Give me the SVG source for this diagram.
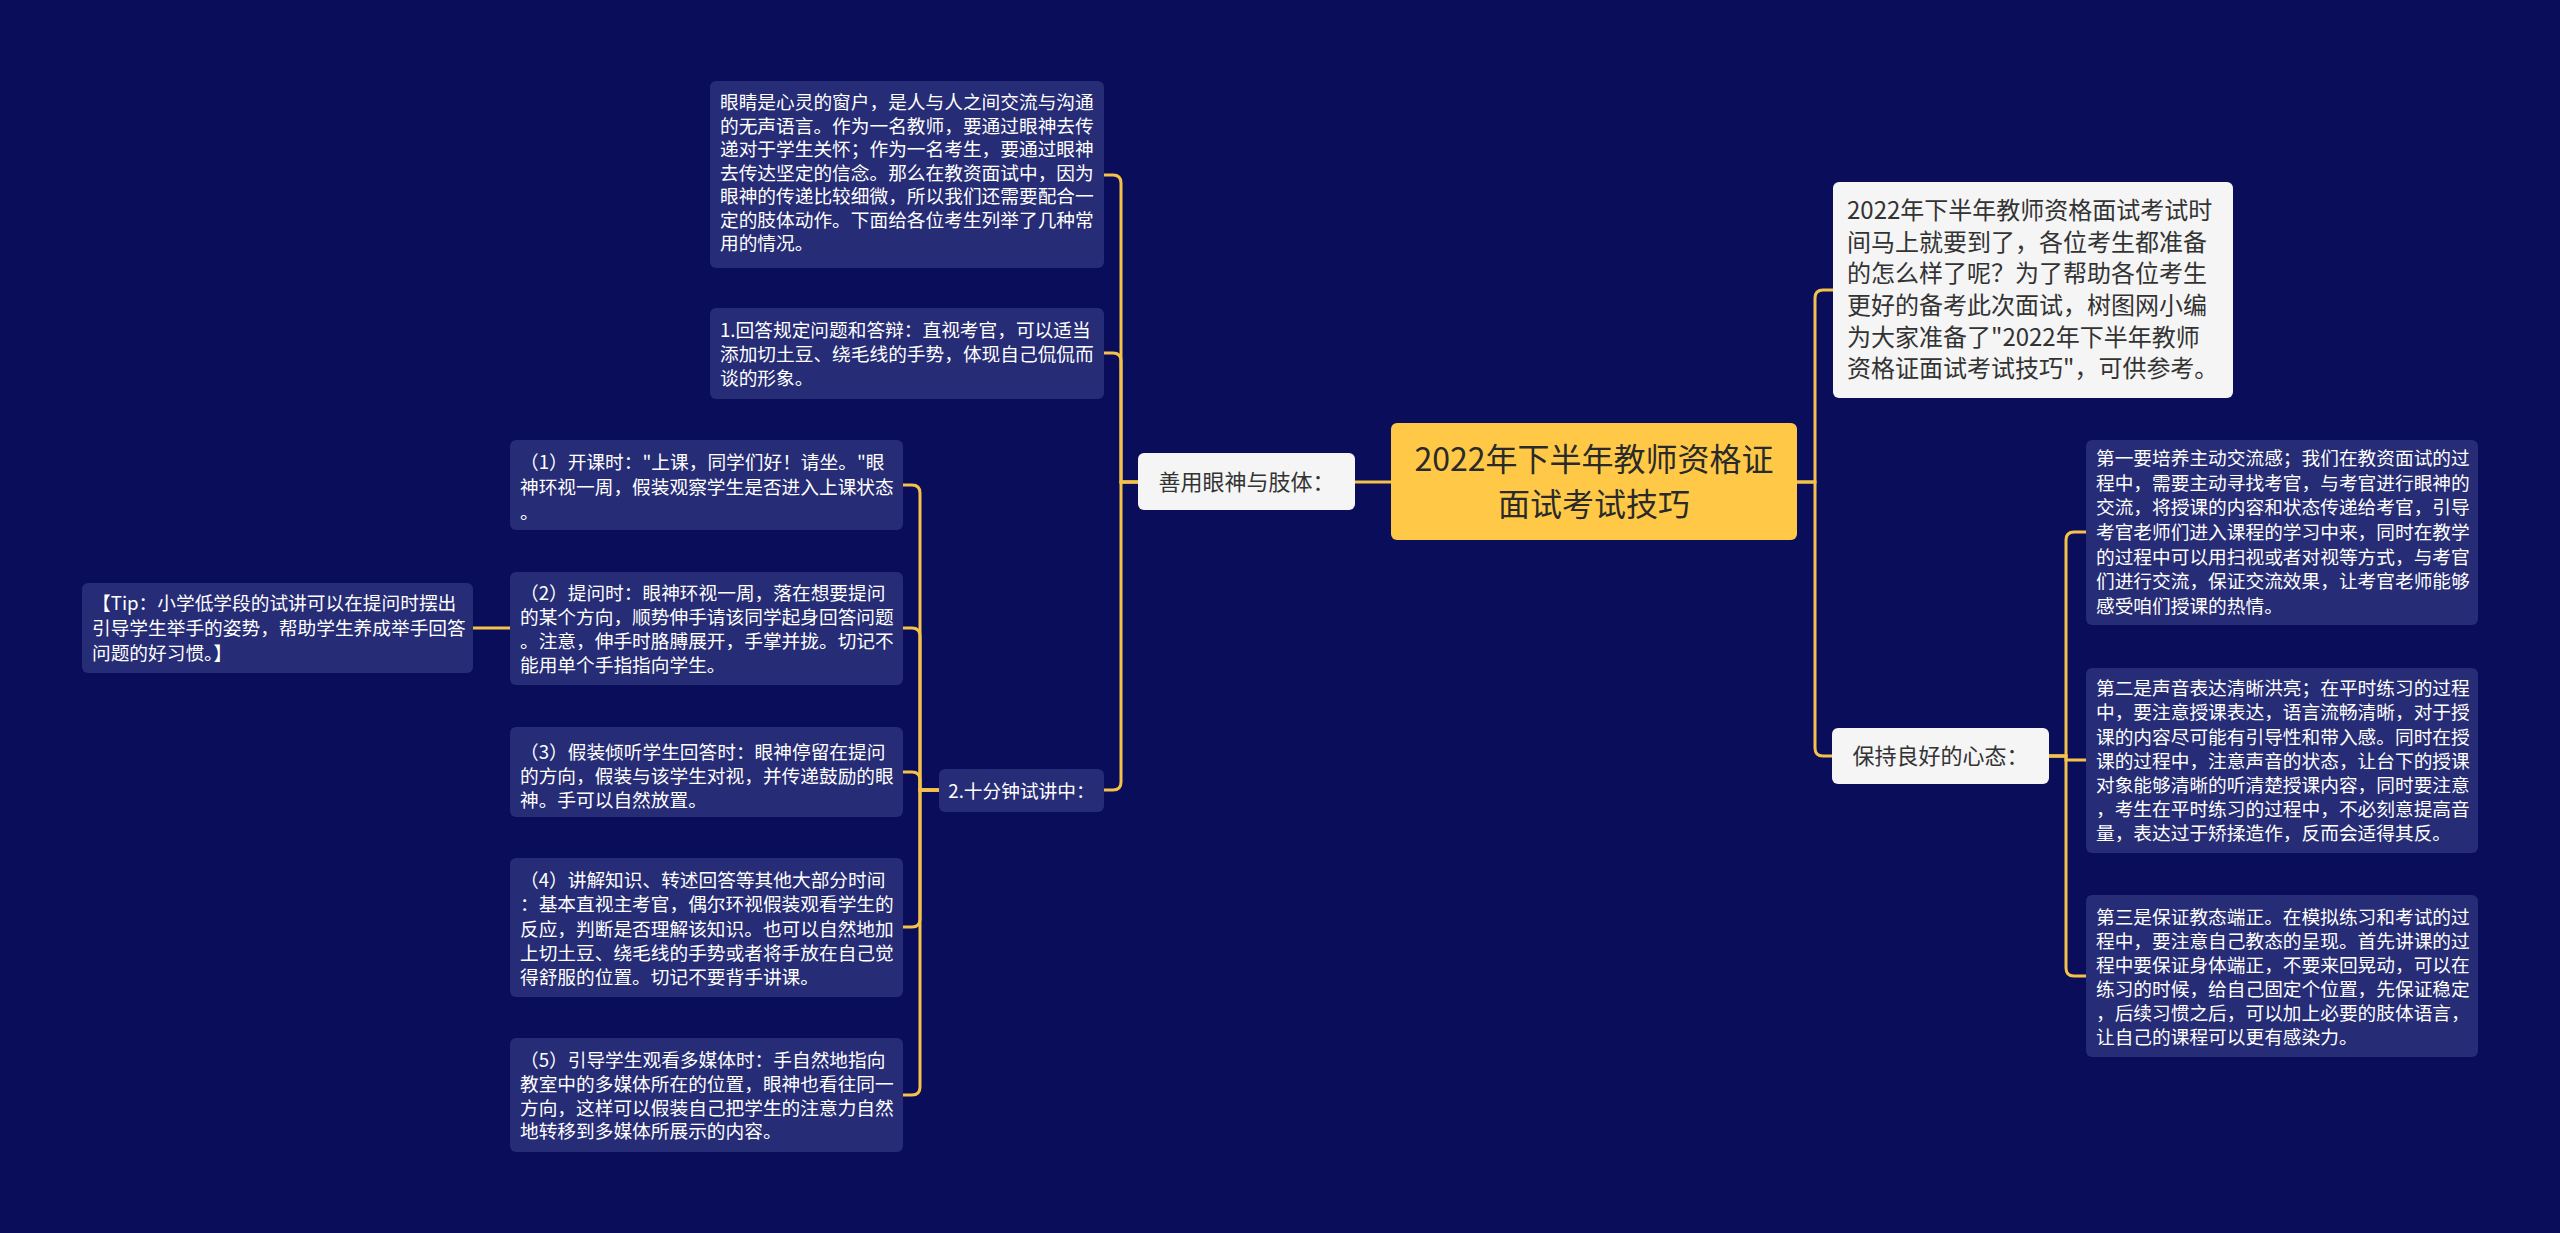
<svg xmlns="http://www.w3.org/2000/svg" width="2560" height="1233" viewBox="0 0 2560 1233">
<style>
.bg{fill:#0a0e5a}
.box{fill:#262c75}
.lbox{fill:#f5f5f5}
.cbox{fill:#ffc947}
.t{font-family:"Noto Sans CJK SC","Noto Sans",sans-serif;font-size:18.7px;fill:#ffffff}
.tl{font-family:"Noto Sans CJK SC","Noto Sans",sans-serif;fill:#333333}
.tc{font-family:"Noto Sans CJK SC","Noto Sans",sans-serif;font-size:32px;fill:#2a2a2a}
.c{fill:none;stroke:#f4c14a;stroke-width:3;stroke-linecap:round}
</style>
<rect class="bg" x="0" y="0" width="2560" height="1233"/>
<g id="connectors">
<path class="c" d="M1391,482 H1355"/>
<path class="c" d="M1138,482 H1121 V183 Q1121,175 1113,175 H1104"/>
<path class="c" d="M1138,482 H1121 V361 Q1121,353 1113,353 H1104"/>
<path class="c" d="M1138,482 H1121 V782 Q1121,790 1113,790 H1104"/>
<path class="c" d="M939,790 H920 V493 Q920,485 912,485 H903"/>
<path class="c" d="M939,790 H920 V636 Q920,628 912,628 H903"/>
<path class="c" d="M939,790 H920 V780 Q920,772 912,772 H903"/>
<path class="c" d="M939,790 H920 V919 Q920,927 912,927 H903"/>
<path class="c" d="M939,790 H920 V1087 Q920,1095 912,1095 H903"/>
<path class="c" d="M510,628 H473"/>
<path class="c" d="M1797,482 H1815 V298 Q1815,290 1823,290 H1833"/>
<path class="c" d="M1797,482 H1815 V748 Q1815,756 1823,756 H1832"/>
<path class="c" d="M2049,756 H2066 V540 Q2066,532 2074,532 H2086"/>
<path class="c" d="M2049,756 H2066 V760 H2086"/>
<path class="c" d="M2049,756 H2066 V968 Q2066,976 2074,976 H2086"/>
</g>
<g id="center">
<rect class="cbox" x="1391" y="423" width="406" height="117" rx="6"/>
<text class="tc" x="1594" y="471" text-anchor="middle">2022年下半年教师资格证</text>
<text class="tc" x="1594" y="516" text-anchor="middle">面试考试技巧</text>
</g>
<g id="n-shanyong">
<rect class="lbox" x="1138" y="453" width="217" height="57" rx="6"/>
<text class="tl" x="1246.5" y="490" font-size="22" text-anchor="middle">善用眼神与肢体：</text>
</g>
<g id="n-yanjing">
<rect class="box" x="710" y="81" width="394" height="187" rx="6"/>
<text class="t" x="720" y="109">眼睛是心灵的窗户，是人与人之间交流与沟通</text>
<text class="t" x="720" y="132.5">的无声语言。作为一名教师，要通过眼神去传</text>
<text class="t" x="720" y="156">递对于学生关怀；作为一名考生，要通过眼神</text>
<text class="t" x="720" y="179.5">去传达坚定的信念。那么在教资面试中，因为</text>
<text class="t" x="720" y="203">眼神的传递比较细微，所以我们还需要配合一</text>
<text class="t" x="720" y="226.5">定的肢体动作。下面给各位考生列举了几种常</text>
<text class="t" x="720" y="250">用的情况。</text>
</g>
<g id="n-huida">
<rect class="box" x="710" y="308" width="394" height="91" rx="6"/>
<text class="t" x="720" y="337">1.回答规定问题和答辩：直视考官，可以适当</text>
<text class="t" x="720" y="361">添加切土豆、绕毛线的手势，体现自己侃侃而</text>
<text class="t" x="720" y="385">谈的形象。</text>
</g>
<g id="n-shifenzhong">
<rect class="box" x="939" y="769" width="165" height="43" rx="6"/>
<text class="t" x="1021.5" y="798" text-anchor="middle">2.十分钟试讲中：</text>
</g>
<g id="n-1">
<rect class="box" x="510" y="440" width="393" height="90" rx="6"/>
<text class="t" x="520" y="469">（1）开课时："上课，同学们好！请坐。"眼</text>
<text class="t" x="520" y="494">神环视一周，假装观察学生是否进入上课状态</text>
<text class="t" x="520" y="519">。</text>
</g>
<g id="n-2">
<rect class="box" x="510" y="572" width="393" height="113" rx="6"/>
<text class="t" x="520" y="600">（2）提问时：眼神环视一周，落在想要提问</text>
<text class="t" x="520" y="624">的某个方向，顺势伸手请该同学起身回答问题</text>
<text class="t" x="520" y="648">。注意，伸手时胳膊展开，手掌并拢。切记不</text>
<text class="t" x="520" y="672">能用单个手指指向学生。</text>
</g>
<g id="n-tip">
<rect class="box" x="82" y="583" width="391" height="90" rx="6"/>
<text class="t" x="92" y="610">【Tip：小学低学段的试讲可以在提问时摆出</text>
<text class="t" x="92" y="635">引导学生举手的姿势，帮助学生养成举手回答</text>
<text class="t" x="92" y="660">问题的好习惯。】</text>
</g>
<g id="n-3">
<rect class="box" x="510" y="727" width="393" height="90" rx="6"/>
<text class="t" x="520" y="759">（3）假装倾听学生回答时：眼神停留在提问</text>
<text class="t" x="520" y="783">的方向，假装与该学生对视，并传递鼓励的眼</text>
<text class="t" x="520" y="807">神。手可以自然放置。</text>
</g>
<g id="n-4">
<rect class="box" x="510" y="858" width="393" height="139" rx="6"/>
<text class="t" x="520" y="887">（4）讲解知识、转述回答等其他大部分时间</text>
<text class="t" x="520" y="911">：基本直视主考官，偶尔环视假装观看学生的</text>
<text class="t" x="520" y="936">反应，判断是否理解该知识。也可以自然地加</text>
<text class="t" x="520" y="960">上切土豆、绕毛线的手势或者将手放在自己觉</text>
<text class="t" x="520" y="984">得舒服的位置。切记不要背手讲课。</text>
</g>
<g id="n-5">
<rect class="box" x="510" y="1038" width="393" height="114" rx="6"/>
<text class="t" x="520" y="1067">（5）引导学生观看多媒体时：手自然地指向</text>
<text class="t" x="520" y="1091">教室中的多媒体所在的位置，眼神也看往同一</text>
<text class="t" x="520" y="1115">方向，这样可以假装自己把学生的注意力自然</text>
<text class="t" x="520" y="1138">地转移到多媒体所展示的内容。</text>
</g>
<g id="n-intro">
<rect class="lbox" x="1833" y="182" width="400" height="216" rx="6"/>
<text class="tl" x="1847" y="219" font-size="24">2022年下半年教师资格面试考试时</text>
<text class="tl" x="1847" y="251" font-size="24">间马上就要到了，各位考生都准备</text>
<text class="tl" x="1847" y="282" font-size="24">的怎么样了呢？为了帮助各位考生</text>
<text class="tl" x="1847" y="314" font-size="24">更好的备考此次面试，树图网小编</text>
<text class="tl" x="1847" y="346" font-size="24">为大家准备了"2022年下半年教师</text>
<text class="tl" x="1847" y="377" font-size="24">资格证面试考试技巧"，可供参考。</text>
</g>
<g id="n-baochi">
<rect class="lbox" x="1832" y="728" width="217" height="56" rx="6"/>
<text class="tl" x="1940.5" y="764" font-size="22" text-anchor="middle">保持良好的心态：</text>
</g>
<g id="n-r1">
<rect class="box" x="2086" y="440" width="392" height="185" rx="6"/>
<text class="t" x="2096" y="465">第一要培养主动交流感；我们在教资面试的过</text>
<text class="t" x="2096" y="490">程中，需要主动寻找考官，与考官进行眼神的</text>
<text class="t" x="2096" y="514">交流，将授课的内容和状态传递给考官，引导</text>
<text class="t" x="2096" y="539">考官老师们进入课程的学习中来，同时在教学</text>
<text class="t" x="2096" y="564">的过程中可以用扫视或者对视等方式，与考官</text>
<text class="t" x="2096" y="588">们进行交流，保证交流效果，让考官老师能够</text>
<text class="t" x="2096" y="613">感受咱们授课的热情。</text>
</g>
<g id="n-r2">
<rect class="box" x="2086" y="668" width="392" height="185" rx="6"/>
<text class="t" x="2096" y="695">第二是声音表达清晰洪亮；在平时练习的过程</text>
<text class="t" x="2096" y="719">中，要注意授课表达，语言流畅清晰，对于授</text>
<text class="t" x="2096" y="744">课的内容尽可能有引导性和带入感。同时在授</text>
<text class="t" x="2096" y="768">课的过程中，注意声音的状态，让台下的授课</text>
<text class="t" x="2096" y="792">对象能够清晰的听清楚授课内容，同时要注意</text>
<text class="t" x="2096" y="816">，考生在平时练习的过程中，不必刻意提高音</text>
<text class="t" x="2096" y="840">量，表达过于矫揉造作，反而会适得其反。</text>
</g>
<g id="n-r3">
<rect class="box" x="2086" y="895" width="392" height="162" rx="6"/>
<text class="t" x="2096" y="924">第三是保证教态端正。在模拟练习和考试的过</text>
<text class="t" x="2096" y="948">程中，要注意自己教态的呈现。首先讲课的过</text>
<text class="t" x="2096" y="972">程中要保证身体端正，不要来回晃动，可以在</text>
<text class="t" x="2096" y="996">练习的时候，给自己固定个位置，先保证稳定</text>
<text class="t" x="2096" y="1020">，后续习惯之后，可以加上必要的肢体语言，</text>
<text class="t" x="2096" y="1044">让自己的课程可以更有感染力。</text>
</g>
</svg>
